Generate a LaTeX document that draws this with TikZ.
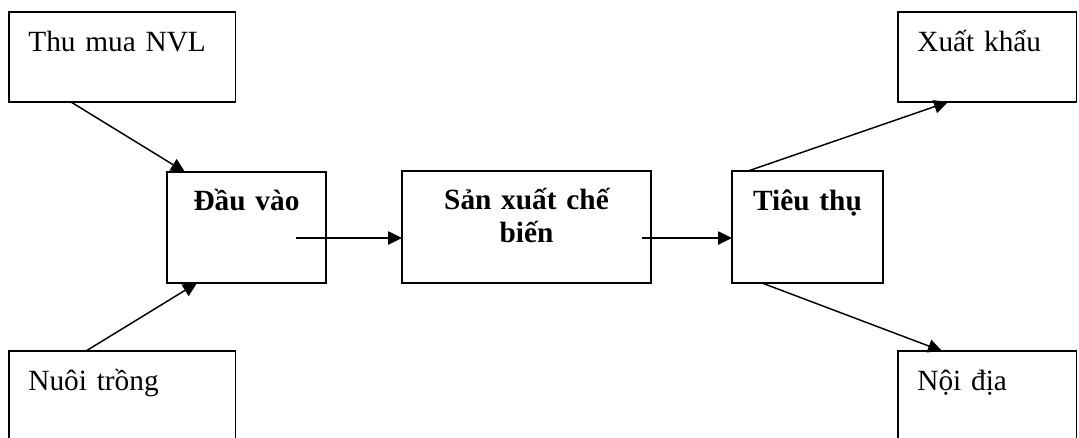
\documentclass[tikz,border=0pt]{standalone}
\usepackage{fontspec}
\setmainfont{Liberation Serif}
\usetikzlibrary{arrows.meta,calc}

\tikzset{
  outbox/.style={draw,line width=1.2pt,anchor=north west,align=left,outer sep=0pt,
    inner xsep=14.5pt,inner ysep=0pt,text height=29.25pt,text depth=38.25pt},
  stagebox/.style={draw,line width=1.2pt,anchor=north west,align=center,outer sep=0pt,
    inner xsep=6pt,inner ysep=0pt,font=\fontsize{22}{25}\selectfont\bfseries},
  flow/.style={-{Triangle[length=10.5pt,width=10pt]},line width=1.1pt}
}

\begin{document}
\begin{tikzpicture}[x=0.75pt,y=-0.75pt,font=\fontsize{22}{25}\selectfont]
\path[use as bounding box,clip] (0,0) rectangle (1079,437);

% sources and markets
\node[outbox,text width=141pt] (thumua) at (9,12) {Thu mua NVL};
\node[outbox,text width=141pt] (nuoitrong) at (9,351) {Nuôi trồng};
\node[outbox,text width=105pt] (xuatkhau) at (898,12) {Xuất khẩu};
\node[outbox,text width=105pt] (noidia) at (898,351) {Nội địa};

% the three stages
\node[stagebox,line width=2pt,text width=107.25pt,text height=28.5pt,text depth=54.75pt]
  (dauvao) at (167,172) {Đầu vào};
\node[stagebox,text width=174.75pt,text height=28.5pt,text depth=55.5pt]
  (sanxuat) at (402,171) {Sản xuất chế\\biến};
\node[stagebox,text width=101.25pt,text height=29.25pt,text depth=54.75pt]
  (tieuthu) at (732,171) {Tiêu thụ};

\draw[flow] ($(thumua.south west)+(62,0)$) -- ($(dauvao.north west)+(18,0)$);
\draw[flow] ($(nuoitrong.north west)+(77,0)$) -- ($(dauvao.south west)+(30,0)$);
\draw[flow] ($(dauvao.south east)+(-30,-45)$) -- ($(sanxuat.south west)+(0,-45)$);
\draw[flow] ($(sanxuat.south east)+(-9,-45)$) -- ($(tieuthu.south west)+(0,-45)$);
\draw[flow] ($(tieuthu.north west)+(16,0)$) -- ($(xuatkhau.south west)+(50,0)$);
\draw[flow] ($(tieuthu.south west)+(30,0)$) -- ($(noidia.north west)+(44,0)$);
\end{tikzpicture}
\end{document}
